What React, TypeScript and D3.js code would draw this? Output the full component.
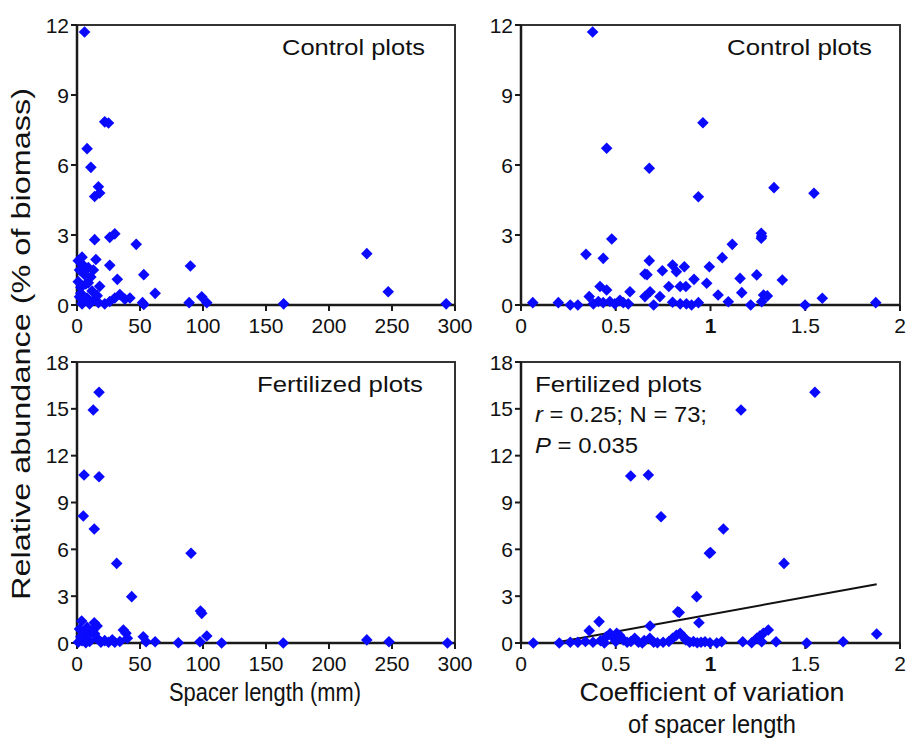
import React from "react";
import * as d3 from "d3";

// ---------- DATA ----------
const xTicksSpacer = [0, 50, 100, 150, 200, 250, 300];
const xTicksCV = [0, 0.5, 1, 1.5, 2];
const yTicksControl = [0, 3, 6, 9, 12];
const yTicksFert = [0, 3, 6, 9, 12, 15, 18];

// Control plots: [spacer length (mm), relative abundance (%)]
const controlSpacer: [number, number][] = [
  [6, 11.7], [22, 7.85], [25, 7.8], [8, 6.7], [11, 5.9], [17, 5.07], [14, 4.65], [18, 4.8],
  [14, 2.8], [26, 2.9], [30, 3.05], [47, 2.6], [4, 2.05], [15, 1.95], [26, 1.7], [90, 1.67],
  [53, 1.3], [32, 1.1], [62, 0.5], [18, 0.8], [2, 1.5], [5, 1.7], [9, 1.6], [11, 1.2],
  [7, 0.9], [3, 0.75], [12, 0.6], [2, 0.35], [8, 0.3], [14, 0.25], [4, 0.05], [10, 0.05],
  [17, 0.1], [1, 1.0], [6, 1.3], [3, 0.5], [13, 1.5], [22, 0.05], [26, 0.15], [30, 0.3],
  [34, 0.45], [38, 0.25], [42, 0.3], [52, 0.1], [53, 0.02], [89, 0.1], [99, 0.35], [103, 0.1],
  [164, 0.05], [230, 2.2], [247, 0.57], [293, 0.05], [1, 1.9], [5, 0.2], [9, 0.95], [16, 0.4],
];

// Control plots: [CV of spacer length, relative abundance (%)]
const controlCV: [number, number][] = [
  [0.378, 11.7], [0.452, 6.72], [0.677, 5.86], [0.96, 7.81], [0.936, 4.64], [1.335, 5.03],
  [1.546, 4.79], [0.479, 2.83], [0.343, 2.17], [0.434, 2.0], [0.677, 1.9], [0.654, 1.33],
  [0.665, 1.3], [0.746, 1.47], [0.8, 1.71], [0.82, 1.43], [0.862, 1.64], [0.913, 1.1],
  [0.98, 0.93], [0.994, 1.64], [1.062, 2.03], [1.115, 2.6], [1.268, 3.07], [1.27, 2.95],
  [1.268, 2.86], [1.156, 1.14], [1.244, 1.29], [1.379, 1.07], [0.78, 0.79], [0.84, 0.79],
  [0.87, 0.79], [0.417, 0.79], [0.452, 0.64], [0.681, 0.57], [0.654, 0.36], [0.733, 0.36],
  [0.575, 0.57], [0.36, 0.36], [0.062, 0.1], [0.197, 0.1], [0.26, 0.0], [0.3, 0.0],
  [0.382, 0.05], [0.408, 0.15], [0.434, 0.1], [0.469, 0.15], [0.495, 0.05], [0.522, 0.2],
  [0.54, 0.1], [0.566, 0.05], [0.7, 0.0], [0.8, 0.12], [0.84, 0.05], [0.873, 0.05],
  [0.9, 0.0], [0.936, 0.1], [1.04, 0.43], [1.165, 0.53], [1.094, 0.14], [1.212, 0.0],
  [1.27, 0.14], [1.28, 0.43], [1.3, 0.39], [1.499, 0.0], [1.59, 0.29], [1.872, 0.1],
];

// Fertilized plots: [spacer length (mm), relative abundance (%)]
const fertSpacer: [number, number][] = [
  [17.5, 16.06], [12.9, 14.93], [5.6, 10.76], [17.5, 10.65], [5, 8.14], [13.7, 7.3],
  [31.5, 5.1], [90.5, 5.75], [43.4, 2.97], [98, 2.05], [99, 1.9], [3.7, 1.41], [13.7, 1.3],
  [16, 1.09], [36.8, 0.83], [38.9, 0.62], [52.6, 0.4], [54.8, 0.08], [62, 0.08], [80.4, 0.02],
  [97.6, 0.08], [103, 0.45], [114.8, 0], [163.7, 0], [230, 0.2], [247.6, 0.08], [294, 0],
  [2, 0.9], [6, 0.7], [9, 0.5], [12, 0.8], [16, 0.3], [4, 0.15], [10, 0.1], [1, 0.05],
  [7, 0.02], [19, 0.05], [25, 0.05], [30, 0.05], [34, 0.1], [40, 0.3], [8, 1.0], [3, 0.4],
  [14, 0.6], [22, 0.15], [28, 0.2],
];

// Fertilized plots: [CV of spacer length, relative abundance (%)]
const fertCV: [number, number][] = [
  [0.579, 10.7], [0.672, 10.76], [0.739, 8.09], [0.994, 5.75], [1.0, 5.8], [0.927, 2.97],
  [0.827, 2.0], [0.835, 1.95], [0.939, 1.3], [0.412, 1.37], [0.36, 0.79], [0.681, 1.09],
  [0.065, 0], [0.202, 0], [0.26, 0.05], [0.3, 0.05], [1.551, 16.06], [1.161, 14.93],
  [1.068, 7.3], [1.388, 5.1], [1.877, 0.58], [1.7, 0.08], [1.508, 0], [1.346, 0.08],
  [1.305, 0.83], [1.279, 0.62], [1.26, 0.45], [1.244, 0.3], [1.27, 0.08], [1.217, 0.02],
  [1.17, 0.08], [1.059, 0.08], [1.033, 0], [0.997, 0.02], [0.971, 0.08], [0.34, 0.1],
  [0.38, 0.05], [0.42, 0.15], [0.45, 0.4], [0.47, 0.6], [0.49, 0.3], [0.505, 0.62],
  [0.52, 0.5], [0.54, 0.2], [0.56, 0.05], [0.58, 0.1], [0.62, 0.05], [0.65, 0.15],
  [0.68, 0.3], [0.7, 0.05], [0.72, 0.02], [0.75, 0.05], [0.78, 0.1], [0.8, 0.3],
  [0.82, 0.5], [0.84, 0.62], [0.857, 0.4], [0.87, 0.2], [0.89, 0.05], [0.91, 0.1],
  [0.93, 0.02], [0.95, 0.05], [0.44, 0.0], [0.5, 0.1], [0.6, 0.3], [0.64, 0.0],
];

// Regression for fertilized CV panel
const regSlope = 2.2;
const regIntercept = -0.37;
const regXRange = [0.17, 1.877];

const yAxisTitle = "Relative abundance (% of biomass)";
const xTitleLeft = "Spacer length (mm)";
const xTitleRight = ["Coefficient of variation", "of spacer length"];

// ---------- STYLE ----------
const FONT = "'Liberation Sans', Arial, Helvetica, sans-serif";
const BLUE = "#0a0aff";
const AX = "#1a1a1a";

type PanelProps = {
  left: number; right: number; top: number; bottom: number;
  xDomain: [number, number]; xTicks: number[];
  yDomain: [number, number]; yTicks: number[];
  data: [number, number][];
  xFmt: (v: number) => string;
  children?: (x: d3.ScaleLinear<number, number>, y: d3.ScaleLinear<number, number>) => React.ReactNode;
};

const diamond = (cx: number, cy: number, r: number) =>
  `M${cx},${cy - r}L${cx + r},${cy}L${cx},${cy + r}L${cx - r},${cy}Z`;

function Panel({ left, right, top, bottom, xDomain, xTicks, yDomain, yTicks, data, xFmt, children }: PanelProps) {
  const x = d3.scaleLinear().domain(xDomain).range([left, right]);
  const y = d3.scaleLinear().domain(yDomain).range([bottom, top]);
  return (
    <g>
      <rect x={left} y={top} width={right - left} height={bottom - top} fill="none" stroke="#333" strokeWidth={2} />
      <line x1={left} x2={left} y1={top} y2={bottom} stroke={AX} strokeWidth={2.5} />
      <line x1={left} x2={right} y1={bottom} y2={bottom} stroke={AX} strokeWidth={2.5} />
      {yTicks.map((t) => (
        <g key={"y" + t}>
          <line x1={left - 6} x2={left} y1={y(t)} y2={y(t)} stroke={AX} strokeWidth={2} />
          <text x={left - 8} y={y(t)} dy="0.36em" textAnchor="end" fontSize={21} fontFamily={FONT} fill="#111">
            {t}
          </text>
        </g>
      ))}
      {xTicks.map((t) => (
        <g key={"x" + t}>
          <line x1={x(t)} x2={x(t)} y1={bottom} y2={bottom + 6} stroke={AX} strokeWidth={2} />
          <text x={x(t)} y={bottom + 28} textAnchor="middle" fontSize={21} fontFamily={FONT} fill="#111"
            fontWeight={xFmt(t) === "1" ? "bold" : "normal"}>
            {xFmt(t)}
          </text>
        </g>
      ))}
      {children ? children(x, y) : null}
      {data.map((d, i) => (
        <path key={i} d={diamond(x(d[0]), y(d[1]), 5.8)} fill={BLUE} />
      ))}
    </g>
  );
}

export default function App() {
  const fmt = (v: number) => String(v);
  return (
    <svg width={914} height={745} style={{ position: "absolute", left: 0, top: 0, background: "#fff" }}>
      <rect width={914} height={745} fill="#fff" />
      <Panel left={77} right={455} top={25} bottom={305} xDomain={[0, 300]} xTicks={xTicksSpacer}
        yDomain={[0, 12]} yTicks={yTicksControl} data={controlSpacer} xFmt={fmt} />
      <Panel left={521} right={900} top={25} bottom={305} xDomain={[0, 2]} xTicks={xTicksCV}
        yDomain={[0, 12]} yTicks={yTicksControl} data={controlCV} xFmt={fmt} />
      <Panel left={77} right={455} top={362} bottom={643} xDomain={[0, 300]} xTicks={xTicksSpacer}
        yDomain={[0, 18]} yTicks={yTicksFert} data={fertSpacer} xFmt={fmt} />
      <Panel left={521} right={900} top={362} bottom={643} xDomain={[0, 2]} xTicks={xTicksCV}
        yDomain={[0, 18]} yTicks={yTicksFert} data={fertCV} xFmt={fmt}>
        {(x, y) => {
          const line = d3.line<number>().x((v) => x(v)).y((v) => y(regSlope * v + regIntercept));
          return <path d={line(regXRange) || ""} stroke="#111" strokeWidth={2} fill="none" />;
        }}
      </Panel>

      {/* panel labels */}
      <text x={425} y={55} textAnchor="end" fontSize={22} fontFamily={FONT} fill="#111" textLength={143} lengthAdjust="spacingAndGlyphs">Control plots</text>
      <text x={872} y={55} textAnchor="end" fontSize={22} fontFamily={FONT} fill="#111" textLength={145} lengthAdjust="spacingAndGlyphs">Control plots</text>
      <text x={423} y={392} textAnchor="end" fontSize={22} fontFamily={FONT} fill="#111" textLength={166} lengthAdjust="spacingAndGlyphs">Fertilized plots</text>
      <text x={535} y={392} fontSize={22} fontFamily={FONT} fill="#111" textLength={167} lengthAdjust="spacingAndGlyphs">Fertilized plots</text>
      <text x={535} y={422} fontSize={22} fontFamily={FONT} fill="#111" textLength={172} lengthAdjust="spacingAndGlyphs">
        <tspan fontStyle="italic">r</tspan> = 0.25; N = 73;
      </text>
      <text x={535} y={453} fontSize={22} fontFamily={FONT} fill="#111" textLength={103} lengthAdjust="spacingAndGlyphs">
        <tspan fontStyle="italic">P</tspan> = 0.035
      </text>

      {/* axis titles */}
      <text transform="translate(30,344) rotate(-90)" textAnchor="middle" fontSize={25} fontFamily={FONT} fill="#111"
        textLength={512} lengthAdjust="spacingAndGlyphs">{yAxisTitle}</text>
      <text x={265} y={701} textAnchor="middle" fontSize={26} fontFamily={FONT} fill="#111"
        textLength={192} lengthAdjust="spacingAndGlyphs">{xTitleLeft}</text>
      <text x={712} y={701} textAnchor="middle" fontSize={26} fontFamily={FONT} fill="#111"
        textLength={265} lengthAdjust="spacingAndGlyphs">{xTitleRight[0]}</text>
      <text x={712} y={733} textAnchor="middle" fontSize={26} fontFamily={FONT} fill="#111"
        textLength={168} lengthAdjust="spacingAndGlyphs">{xTitleRight[1]}</text>
    </svg>
  );
}
